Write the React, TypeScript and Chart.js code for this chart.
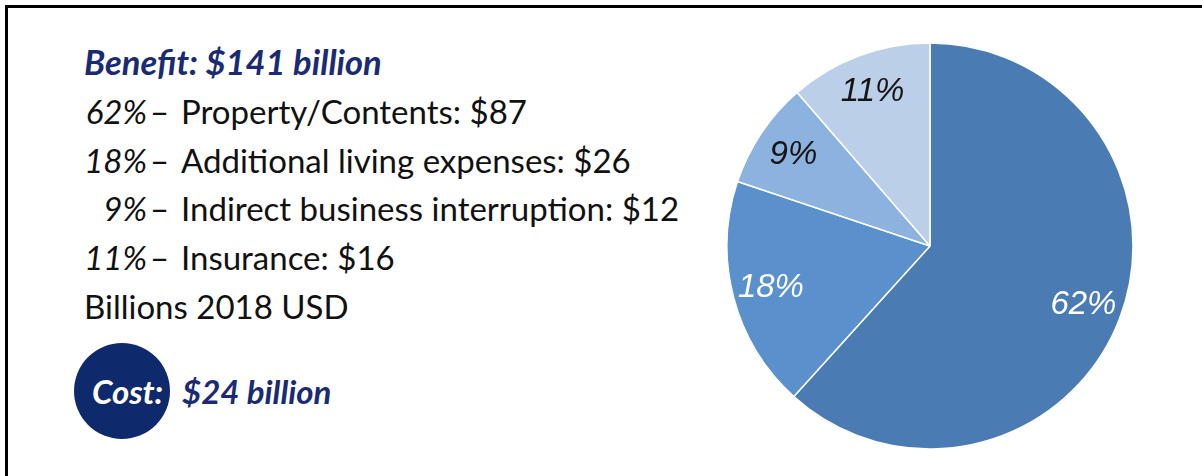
import React, { useEffect, useRef } from "react";
import { Chart, registerables } from "chart.js";

Chart.register(...registerables);

// ---- data ----
const categories = [
  "Property/Contents",
  "Additional living expenses",
  "Indirect business interruption",
  "Insurance",
];
const values = [87, 26, 12, 16]; // billions 2018 USD
const percentLabels = ["62%", "18%", "9%", "11%"];
const sliceColors = ["#4a7cb3", "#5a91cd", "#8cb2df", "#bccfe9"];
const labelColors = ["#ffffff", "#ffffff", "#151515", "#151515"];
const benefitTitle = "Benefit: $141 billion";
const unitNote = "Billions 2018 USD";
const costLabel = "Cost:";
const costValue = "$24 billion";

const NAVY = "#1b2b73";
const TEXT_FONT = "Lato, 'Open Sans', sans-serif";

const labelPlugin = {
  id: "sliceLabels",
  afterDatasetsDraw(chart: any) {
    const meta = chart.getDatasetMeta(0);
    const ctx = chart.ctx;
    ctx.save();
    ctx.font = "italic 33px 'Liberation Sans', Arial, sans-serif";
    ctx.textAlign = "center";
    ctx.textBaseline = "middle";
    meta.data.forEach((arc: any, i: number) => {
      const p = arc.getProps(["x", "y", "startAngle", "endAngle", "outerRadius"], true);
      const mid = (p.startAngle + p.endAngle) / 2;
      const r = p.outerRadius * 0.81;
      ctx.fillStyle = labelColors[i];
      ctx.fillText(percentLabels[i], p.x + Math.cos(mid) * r, p.y + Math.sin(mid) * r);
    });
    ctx.restore();
  },
};

export default function App() {
  const canvasRef = useRef<HTMLCanvasElement | null>(null);

  useEffect(() => {
    document.body.style.margin = "0";
    const canvas = canvasRef.current;
    if (!canvas) return;
    const chart = new Chart(canvas, {
      type: "pie",
      data: {
        labels: categories,
        datasets: [
          {
            data: values,
            backgroundColor: sliceColors,
            borderColor: "#ffffff",
            borderWidth: 1.5,
          },
        ],
      },
      options: {
        animation: false,
        responsive: false,
        maintainAspectRatio: false,
        radius: 203,
        layout: { padding: 0 },
        plugins: {
          legend: { display: false },
          tooltip: { enabled: false },
        },
      },
      plugins: [labelPlugin],
    });
    return () => chart.destroy();
  }, []);

  const lineStyle: React.CSSProperties = {
    position: "relative",
    height: 48.8,
    lineHeight: "48.8px",
    whiteSpace: "nowrap",
  };

  return (
    <div
      style={{
        position: "absolute",
        left: 0,
        top: 0,
        width: 1202,
        height: 476,
        background: "#ffffff",
        overflow: "hidden",
        fontFamily: TEXT_FONT,
      }}
    >
      <div style={{ position: "absolute", left: 5, top: 5, right: 0, height: 3, background: "#000" }} />
      <div style={{ position: "absolute", left: 5, top: 5, width: 3, bottom: 0, background: "#000" }} />

      <div style={{ position: "absolute", left: 84, top: 38, width: 620, fontSize: 33, color: "#111" }}>
        <div style={{ ...lineStyle, color: NAVY, fontWeight: 700, fontStyle: "italic", fontSize: 34.5 }}>
          {benefitTitle}
        </div>
        {categories.map((c, i) => (
          <div key={c} style={lineStyle}>
            <span style={{ position: "absolute", right: 620 - 63, fontStyle: "italic" }}>{percentLabels[i]}</span>
            <span style={{ position: "absolute", left: 66 }}>–</span>
            <span style={{ position: "absolute", left: 97 }}>{`${c}: $${values[i]}`}</span>
          </div>
        ))}
        <div style={lineStyle}>{unitNote}</div>
      </div>

      <div
        style={{
          position: "absolute",
          left: 74,
          top: 343,
          width: 96,
          height: 96,
          borderRadius: "50%",
          background: "#0f2a6c",
        }}
      />
      <div
        style={{
          position: "absolute",
          left: 92,
          top: 371,
          lineHeight: "40px",
          fontSize: 33,
          fontWeight: 700,
          fontStyle: "italic",
          color: "#ffffff",
          whiteSpace: "nowrap",
        }}
      >
        {costLabel}
      </div>
      <div
        style={{
          position: "absolute",
          left: 182,
          top: 371,
          lineHeight: "40px",
          fontSize: 33,
          fontWeight: 700,
          fontStyle: "italic",
          color: NAVY,
          whiteSpace: "nowrap",
        }}
      >
        {costValue}
      </div>

      <canvas
        ref={canvasRef}
        width={420}
        height={420}
        style={{ position: "absolute", left: 720, top: 36, width: 420, height: 420 }}
      />
    </div>
  );
}
